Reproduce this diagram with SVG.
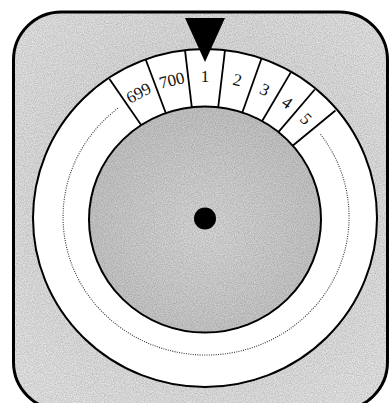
<svg xmlns="http://www.w3.org/2000/svg" width="389" height="403" viewBox="0 0 389 403">
  <defs>
    <style>
      .ln { stroke: #000; stroke-width: 2; fill: none; }
      .tick { stroke: #000; stroke-width: 1.8; }
      .lbl { font-family: "Liberation Serif", "DejaVu Serif", serif; font-size: 17px; fill: #111; text-anchor: middle; }
    </style>
    <radialGradient id="bgGrad" cx="50%" cy="45%" r="65%">
      <stop offset="0" stop-color="#d2d2d2"/>
      <stop offset="1" stop-color="#e6e6e6"/>
    </radialGradient>
    <radialGradient id="hubGrad" cx="50%" cy="55%" r="55%">
      <stop offset="0" stop-color="#dadada"/>
      <stop offset="1" stop-color="#c6c6c6"/>
    </radialGradient>
    <filter id="grain" x="0" y="0" width="100%" height="100%">
      <feTurbulence type="fractalNoise" baseFrequency="0.9" numOctaves="2" seed="3" result="n"/>
      <feColorMatrix in="n" type="matrix" values="0 0 0 0 0  0 0 0 0 0  0 0 0 0 0  0 0 0 0.3 -0.08"/>
      <feComposite in2="SourceGraphic" operator="in"/>
    </filter>
  </defs>
  <rect width="389" height="403" fill="#ffffff"/>
  <g id="frame">
    <rect x="13.5" y="12" width="374" height="398" rx="48" ry="48" fill="url(#bgGrad)"/>
    <rect x="13.5" y="12" width="374" height="398" rx="48" ry="48" fill="#000" filter="url(#grain)"/>
    <rect x="13.5" y="12" width="374" height="398" rx="48" ry="48" fill="none" stroke="#000" stroke-width="3"/>
  </g>
  <g id="dial">
    <ellipse cx="205" cy="218" rx="172" ry="169" fill="#ffffff" stroke="#000" stroke-width="2"/>
    <path d="M118,108.3 A143,138 0 1,0 320.2,133.9" fill="none" stroke="#333" stroke-width="1.1" stroke-dasharray="1,1.3"/>
  </g>
  <g id="segments">
    <line class="tick" x1="205" y1="49" x2="205" y2="108" transform="rotate(-34.5 205 218)"/>
    <line class="tick" x1="205" y1="49" x2="205" y2="108" transform="rotate(-20.5 205 218)"/>
    <line class="tick" x1="205" y1="49" x2="205" y2="108" transform="rotate(-6.8 205 218)"/>
    <line class="tick" x1="205" y1="49" x2="205" y2="108" transform="rotate(6.8 205 218)"/>
    <line class="tick" x1="205" y1="49" x2="205" y2="108" transform="rotate(19.5 205 218)"/>
    <line class="tick" x1="205" y1="49" x2="205" y2="108" transform="rotate(30.5 205 218)"/>
    <line class="tick" x1="205" y1="49" x2="205" y2="108" transform="rotate(40.5 205 218)"/>
    <line class="tick" x1="205" y1="49" x2="205" y2="108" transform="rotate(50.5 205 218)"/>
  </g>
  <g id="hub">
    <ellipse cx="205" cy="219.5" rx="116" ry="113" fill="url(#hubGrad)"/>
    <ellipse cx="205" cy="219.5" rx="116" ry="113" fill="#000" filter="url(#grain)"/>
    <ellipse cx="205" cy="219.5" rx="116" ry="113" class="ln"/>
    <circle cx="205" cy="218.5" r="11" fill="#000"/>
  </g>
  <g id="labels">
    <text class="lbl" x="205" y="82" transform="rotate(-28 205 218)">699</text>
    <text class="lbl" x="205" y="82" transform="rotate(-13.6 205 218)">700</text>
    <text class="lbl" x="205" y="82" transform="rotate(0 205 218)">1</text>
    <text class="lbl" x="205" y="82" transform="rotate(13.2 205 218)">2</text>
    <text class="lbl" x="205" y="82" transform="rotate(25 205 218)">3</text>
    <text class="lbl" x="205" y="82" transform="rotate(35.5 205 218)">4</text>
    <text class="lbl" x="205" y="82" transform="rotate(45.5 205 218)">5</text>
  </g>
  <g id="pointer">
    <polygon points="185,18 225,18 205,62" fill="#000"/>
  </g>
  <g id="connectors"/>
</svg>
